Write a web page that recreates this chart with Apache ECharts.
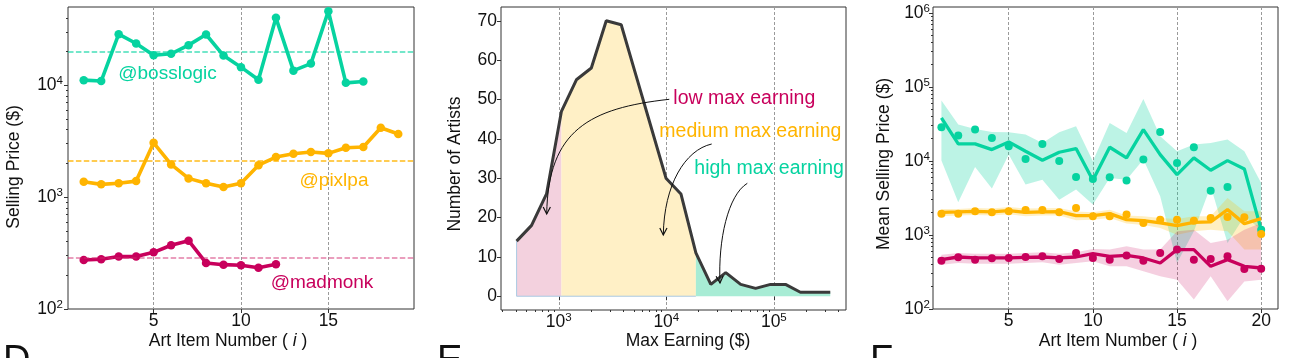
<!DOCTYPE html>
<html><head><meta charset="utf-8">
<script src="https://cdn.jsdelivr.net/npm/echarts@6/dist/echarts.min.js"></script>
<style>html,body{margin:0;padding:0;background:#fff}#c{width:1297px;height:358px}</style>
</head><body><div id="c"></div>
<script>
// ---------- Panel D : selling price per art item for three artists ----------
const itemNumbersD = [1,2,3,4,5,6,7,8,9,10,11,12,13,14,15,16,17,18,19];
const bosslogic = [11100,10900,28600,23600,18500,19100,22800,28400,18400,14500,11200,40000,13500,15600,45900,10500,10800];
const pixlpa    = [1370,1300,1330,1390,3060,1960,1470,1330,1230,1330,1930,2280,2440,2530,2460,2760,2800,4170,3660];
const madmonk   = [274,278,294,294,321,371,408,258,249,246,234,251];
const bosslogicMean = 20100;
const pixlpaMean = 2130;
const madmonkMean = 290;
const ticksDx = [5,10,15];
const ticksLogD = [100,1000,10000];

// ---------- Panel E : distribution of max earnings ----------
const maxEarningBins = [405,558,769,1058,1457,2007,2763,3805,5239,7214,9931,13675,18830,25930,35700,49150,67680,93190,128300,176700,243200,334900];
const artistCounts   = [14,18,26,47,55,58,70,69,56,43,30,26,11,3,6,3,2,3,3,1,1,1];
const lowEndIndex = 3;      // last bin of "low max earning"
const mediumEndIndex = 12;  // last bin of "medium max earning"
const ticksEx = [1000,10000,100000];
const ticksEy = [0,10,20,30,40,50,60,70];

// ---------- Panel F : mean selling price by item number ----------
const itemNumbersF = [1,2,3,4,5,6,7,8,9,10,11,12,13,14,15,16,17,18,19,20];
const highMean  = [38100,16970,16970,14230,18060,13510,10210,13100,14680,5480,15300,10980,26510,12180,6540,10980,7480,10100,7800,1180];
const highDots  = [28500,21990,26500,20460,15780,10640,16970,10000,6080,5700,6000,5420,10420,24650,9400,15300,3970,4450,null,1180];
const highLower = [10100,2760,8300,4230,12180,4790,5590,3000,4100,2570,5890,5590,10420,3330,418,1120,4550,780,1790,1180];
const highUpper = [65300,30970,27060,24650,24380,22700,17500,24380,29400,9890,32620,23900,68800,21540,13500,16620,17500,19420,13500,5040];
const mediumMean  = [2024,2046,2089,2046,2133,2024,2046,2067,1825,1825,1942,1611,1562,1453,1337,1483,1498,2199,1423,1662];
const mediumDots  = [1942,1942,2089,2024,2089,2177,2177,2024,2317,1788,1788,1883,1453,1611,1611,1562,1697,1751,1735,1031];
const mediumLower = [1788,1825,1863,1825,1902,1788,1825,1825,1578,1611,1697,1423,1365,1243,1010,1121,1180,1121,634,634];
const mediumUpper = [2246,2246,2317,2269,2390,2269,2293,2317,2067,2024,2199,1825,1788,1697,1645,1788,1788,3162,2089,2089];
const lowMean  = [464,504,489,489,489,499,504,489,504,559,515,531,489,418,634,634,377,464,377,358];
const lowDots  = [450,499,464,484,489,504,515,474,571,489,464,526,450,571,634,464,474,515,347,351];
const lowLower = [397,418,410,410,410,418,427,397,418,441,377,377,323,276,249,134,276,127,236,249];
const lowUpper = [542,571,559,559,559,571,583,559,583,647,634,703,634,634,1121,1180,780,865,1180,1453];
const ticksFx = [5,10,15,20];
const ticksLogF = [100,1000,10000,100000,1000000];

// ---------- styling ----------
const FONT = "'Liberation Sans', Arial, Helvetica, sans-serif";
const TXT = '#111';
const C_HIGH = '#06d3a0', C_MED = '#ffb400', C_LOW = '#c8005c';
const FS = 17.5;

function minorTicks(lo, hi){ const out=[]; for(let k=1;k<=6;k++){ const p=Math.pow(10,k); for(let m=2;m<=9;m++){ const v=m*p; if(v>lo && v<hi) out.push(v);} } return out; }
function logLabel(v){ const e=Math.round(Math.log10(v)); return '{b|10}{s|'+e+'}'; }
const richLog = { b:{fontSize:FS,fontFamily:FONT,color:TXT,lineHeight:20}, s:{fontSize:11.5,fontFamily:FONT,color:TXT,lineHeight:12,verticalAlign:'top'} };
const gridLine = {show:true, lineStyle:{color:'#9a9a9a', width:1, type:[3,2]}};

function linAxis(grid, min, max, ticks, margin, isX){
  return {gridIndex:grid, type:'value', min, max, position: isX?'bottom':'left', axisLine:{show:false},
    axisTick:{show:true, customValues:ticks, length:4, lineStyle:{color:'#333'}},
    axisLabel:{customValues:ticks, margin, fontSize:FS, fontFamily:FONT, color:TXT, lineHeight:20},
    splitLine: isX ? gridLine : {show:false}};
}
function logAxis(grid, min, max, ticks, margin, isX){
  return {gridIndex:grid, type:'log', logBase:10, min, max, position: isX?'bottom':'left', axisLine:{show:false},
    axisTick:{show:true, customValues:ticks, length:4, lineStyle:{color:'#333'}},
    axisLabel:{customValues:ticks, margin, formatter:logLabel, rich:richLog},
    splitLine: isX ? gridLine : {show:false}};
}
function minorAxis(grid, min, max, isX){
  return {gridIndex:grid, type:'log', logBase:10, min, max, position: isX?'bottom':'left', offset:0, axisLine:{show:false},
    axisTick:{show:true, customValues:minorTicks(min,max), length:2, lineStyle:{color:'#333'}},
    axisLabel:{show:false}, splitLine:{show:false}};
}

function pairs(xs, ys){ return ys.map((y,i)=>[xs[i], y]); }

function bandSeries(xi, yi, xs, lo, hi, color){
  return {type:'custom', xAxisIndex:xi, yAxisIndex:yi, silent:true, z:1,
    data: xs.map((x,i)=>[x, lo[i], hi[i]]),
    encode:{x:0, y:[1,2]},
    renderItem: function(params, api){
      if (params.dataIndex !== 0) return null;
      const top=[], bot=[];
      for (let i=0;i<xs.length;i++){ top.push(api.coord([xs[i], hi[i]])); bot.push(api.coord([xs[i], lo[i]])); }
      return {type:'polygon', shape:{points: top.concat(bot.reverse())}, style:{fill:color}};
    }};
}

function lineD(ys, color, mean, dashColor){
  return {type:'line', xAxisIndex:0, yAxisIndex:0, data:pairs(itemNumbersD, ys), color,
    lineStyle:{width:3.6, color}, symbol:'circle', symbolSize:8.5, showSymbol:true, itemStyle:{color}, z:3,
    markLine:{silent:true, symbol:'none', label:{show:false}, data:[{yAxis:mean}],
      lineStyle:{type:[5.5,2.4], width:1.5, color:dashColor}}};
}

function lineF(ys, color){
  return {type:'line', xAxisIndex:3, yAxisIndex:3, data:pairs(itemNumbersF, ys), showSymbol:false, symbol:'none',
    lineStyle:{width:3.3, color}, color, z:2};
}
function dotsF(ys, color){
  return {type:'scatter', xAxisIndex:3, yAxisIndex:3, data:pairs(itemNumbersF, ys).filter(p=>p[1]!=null),
    symbol:'circle', symbolSize:8, itemStyle:{color, opacity:1}, z:3};
}

function areaE(from, to, color){
  return {type:'line', xAxisIndex:1, yAxisIndex:2, data:pairs(maxEarningBins, artistCounts).slice(from, to+1),
    showSymbol:false, symbol:'none', lineStyle:{width:0}, areaStyle:{color, opacity:1, origin:'auto'}, z:1, silent:true};
}

// text helpers
function txt(x, y, text, color, size, align, extra){
  return Object.assign({type:'text', x, y, z:100, silent:true, style:{text, fill:color, fontSize:size, fontFamily:FONT, align:align||'center', verticalAlign:'middle'}}, extra||{});
}
function itemTitle(x, y){
  return {type:'text', x, y, z:100, silent:true, style:{text:'Art Item Number ( {it|i} )', fill:TXT, fontSize:FS, fontFamily:FONT, align:'center', verticalAlign:'middle',
    rich:{it:{fontStyle:'italic', fontSize:FS, fontFamily:FONT, fill:TXT}}}};
}
function arrow(p0, c1, c2, p3){
  const dx=p3[0]-c2[0], dy=p3[1]-c2[1], L=Math.hypot(dx,dy), ux=dx/L, uy=dy/L, hl=7, hw=3.6;
  const a=[p3[0]-ux*hl-uy*hw, p3[1]-uy*hl+ux*hw], b=[p3[0]-ux*hl+uy*hw, p3[1]-uy*hl-ux*hw];
  return [
    {type:'bezierCurve', z:100, silent:true, shape:{x1:p0[0],y1:p0[1],cpx1:c1[0],cpy1:c1[1],cpx2:c2[0],cpy2:c2[1],x2:p3[0],y2:p3[1]}, style:{stroke:'#111', lineWidth:1, fill:null}},
    {type:'polyline', z:100, silent:true, shape:{points:[a,p3,b]}, style:{stroke:'#111', lineWidth:1.2, fill:null}}
  ];
}
function letter(x, t){
  return {type:'text', x, y:343, z:100, silent:true, style:{text:t, fill:'#111', fontSize:38, fontFamily:FONT, align:'left', verticalAlign:'top'}};
}

// thin outline of the low/medium filled region (left edge and baseline)
const fillEdge = [[maxEarningBins[0], artistCounts[0]], [maxEarningBins[0], 0], [maxEarningBins[mediumEndIndex], 0]];

const option = {
  animation:false,
  backgroundColor:'#fff',
  grid:[
    {left:68, top:7, width:346, height:302, show:true, borderColor:'#333', borderWidth:1},
    {left:501, top:7, width:345, height:303, show:true, borderColor:'#333', borderWidth:1},
    {left:933, top:7, width:345, height:302, show:true, borderColor:'#333', borderWidth:1}
  ],
  xAxis:[
    linAxis(0, 0.1, 19.9, ticksDx, 2, true),
    logAxis(1, 290, 469000, ticksEx, 2, true),
    minorAxis(1, 290, 469000, true),
    linAxis(2, 0.5, 21, ticksFx, 2, true)
  ],
  yAxis:[
    logAxis(0, 100, 50000, ticksLogD, 5, false),
    minorAxis(0, 100, 50000, false),
    linAxis(1, -3.5, 73.5, ticksEy, 4, false),
    logAxis(2, 100, 1200000, ticksLogF, 3, false),
    minorAxis(2, 100, 1200000, false)
  ],
  series:[
    lineD(bosslogic, C_HIGH, bosslogicMean, 'rgba(6,211,160,0.75)'),
    lineD(pixlpa, C_MED, pixlpaMean, 'rgba(255,180,0,0.9)'),
    lineD(madmonk, C_LOW, madmonkMean, 'rgba(210,40,110,0.6)'),

    areaE(0, lowEndIndex, '#f3d1de'),
    areaE(lowEndIndex, mediumEndIndex, '#fff0c6'),
    areaE(mediumEndIndex, artistCounts.length-1, '#a8ecd5'),
    {type:'line', xAxisIndex:1, yAxisIndex:2, data:fillEdge, showSymbol:false, symbol:'none', silent:true,
      lineStyle:{width:1, color:'#a9c9e3'}, z:1},
    {type:'line', xAxisIndex:1, yAxisIndex:2, data:pairs(maxEarningBins, artistCounts), showSymbol:false, symbol:'none',
      lineStyle:{width:3, color:'#3a3a3a'}, z:2},

    bandSeries(3, 3, itemNumbersF, highLower, highUpper, 'rgba(6,211,160,0.27)'),
    bandSeries(3, 3, itemNumbersF, mediumLower, mediumUpper, 'rgba(255,190,0,0.24)'),
    bandSeries(3, 3, itemNumbersF, lowLower, lowUpper, 'rgba(200,0,92,0.19)'),
    lineF(highMean, C_HIGH), lineF(mediumMean, C_MED), lineF(lowMean, C_LOW),
    dotsF(highDots, C_HIGH), dotsF(mediumDots, C_MED), dotsF(lowDots, C_LOW)
  ],
  graphic:[
    // artist labels (panel D)
    txt(167.5, 74, '@bosslogic', C_HIGH, 19),
    txt(334, 181, '@pixlpa', C_MED, 19),
    txt(322, 283, '@madmonk', C_LOW, 19),
    // panel E annotations
    txt(673.3, 99, 'low max earning', C_LOW, 19.5, 'left'),
    txt(659.3, 132, 'medium max earning', C_MED, 19.5, 'left'),
    txt(694.3, 169, 'high max earning', C_HIGH, 19.5, 'left'),
    ...arrow([669.3,99.3],[590,108],[548,130],[546.7,214]),
    ...arrow([711.7,144],[685,150],[664,185],[663.3,235]),
    ...arrow([747.3,183.3],[728,195],[718,240],[720,283]),
    // axis titles
    txt(14, 167, 'Selling Price ($)', TXT, FS, 'center', {rotation:Math.PI/2}),
    itemTitle(228, 341),
    txt(455.5, 164, 'Number of Artists', TXT, FS, 'center', {rotation:Math.PI/2}),
    txt(688, 341, 'Max Earning ($)', TXT, FS, 'center'),
    txt(884, 164, 'Mean Selling Price ($)', TXT, FS, 'center', {rotation:Math.PI/2}),
    itemTitle(1118, 341),
    // panel letters (cut off at the bottom)
    letter(3, 'D'), letter(437, 'E'), letter(870, 'F')
  ]
};

const chart = echarts.init(document.getElementById('c'), null, {renderer:'canvas'});
chart.setOption(option);
</script>
</body></html>
